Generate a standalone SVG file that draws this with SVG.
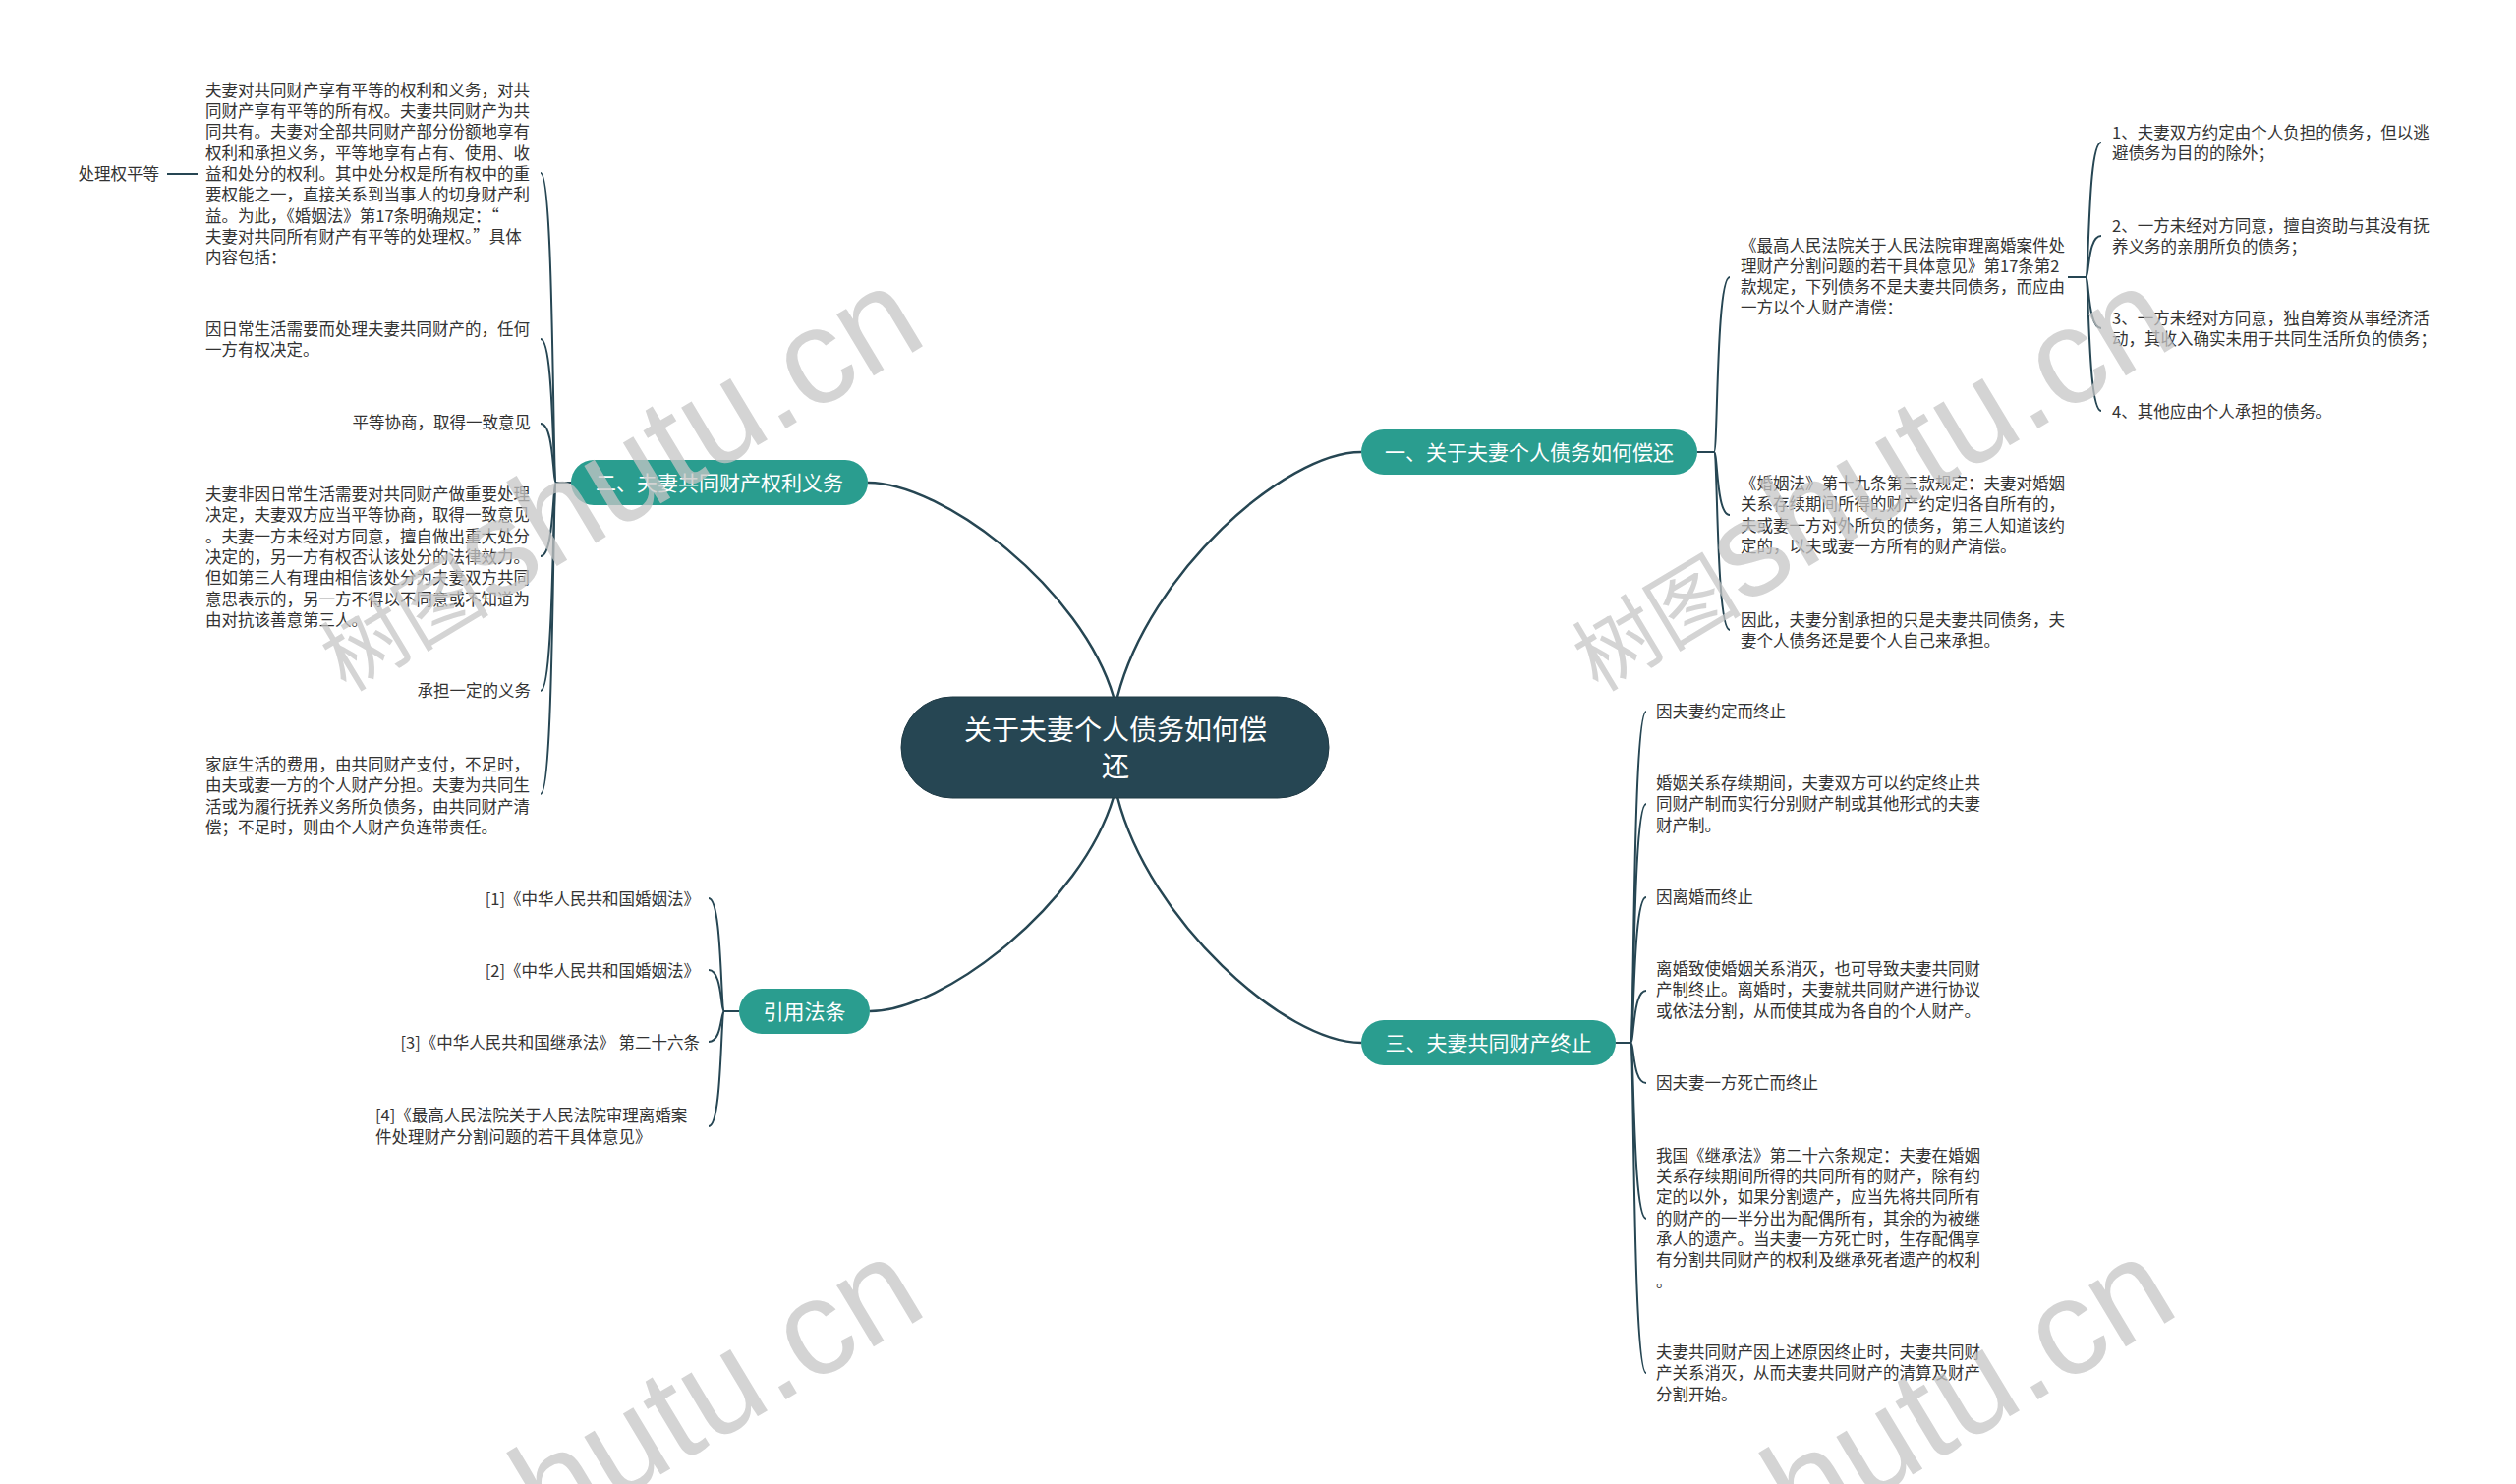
<svg xmlns="http://www.w3.org/2000/svg" width="2560" height="1510" viewBox="0 0 2560 1510">
<style>
.leaf{font-family:"Noto Sans CJK SC","Microsoft YaHei",sans-serif;font-size:16.5px;fill:#333333}
.end{text-anchor:end}
.br{font-family:"Noto Sans CJK SC","Microsoft YaHei",sans-serif;font-size:21px;fill:#ffffff;text-anchor:middle}
.ct{font-family:"Noto Sans CJK SC","Microsoft YaHei",sans-serif;font-size:28px;fill:#ffffff;text-anchor:middle}
.brn{fill:#2a9d8f}
.main{fill:none;stroke:#264653;stroke-width:2.5}
.sub{fill:none;stroke:#264653;stroke-width:2}
.wm{font-family:"Liberation Sans","Noto Sans CJK SC",sans-serif;fill:#c6c6c6;opacity:0.75}
</style>
<rect width="2560" height="1510" fill="#ffffff"/>

<g id="connectors">
<path class="main" d="M1133 709 C1101 600 960 491 883 491"/>
<path class="main" d="M1137 709 C1169 584 1307 460 1385 460"/>
<path class="main" d="M1133 811 C1101 920 960 1029 885 1029"/>
<path class="main" d="M1137 811 C1169 936 1307 1061 1385 1061"/>
<path class="sub" d="M581 491 H566 C562 491 564 176 550 176"/>
<path class="sub" d="M581 491 H566 C562 491 564 345 550 345"/>
<path class="sub" d="M581 491 H566 C562 491 564 431 550 431"/>
<path class="sub" d="M581 491 H566 C562 491 564 566 550 566"/>
<path class="sub" d="M581 491 H566 C562 491 564 703 550 703"/>
<path class="sub" d="M581 491 H566 C562 491 564 808 550 808"/>
<path class="sub" d="M201 177 H170"/>
<path class="sub" d="M1727 460 H1744 C1748 460 1746 282 1760 282"/>
<path class="sub" d="M1727 460 H1744 C1748 460 1746 524 1760 524"/>
<path class="sub" d="M1727 460 H1744 C1748 460 1746 641 1760 641"/>
<path class="sub" d="M2104 282 H2122 C2126 282 2124 145 2138 145"/>
<path class="sub" d="M2104 282 H2122 C2126 282 2124 240 2138 240"/>
<path class="sub" d="M2104 282 H2122 C2126 282 2124 334 2138 334"/>
<path class="sub" d="M2104 282 H2122 C2126 282 2124 418 2138 418"/>
<path class="sub" d="M1644 1061 H1659 C1663 1061 1661 724 1675 724"/>
<path class="sub" d="M1644 1061 H1659 C1663 1061 1661 818 1675 818"/>
<path class="sub" d="M1644 1061 H1659 C1663 1061 1661 913 1675 913"/>
<path class="sub" d="M1644 1061 H1659 C1663 1061 1661 1008 1675 1008"/>
<path class="sub" d="M1644 1061 H1659 C1663 1061 1661 1102 1675 1102"/>
<path class="sub" d="M1644 1061 H1659 C1663 1061 1661 1240 1675 1240"/>
<path class="sub" d="M1644 1061 H1659 C1663 1061 1661 1397 1675 1397"/>
<path class="sub" d="M752 1029 H737 C733 1029 735 914 721 914"/>
<path class="sub" d="M752 1029 H737 C733 1029 735 987 721 987"/>
<path class="sub" d="M752 1029 H737 C733 1029 735 1060 721 1060"/>
<path class="sub" d="M752 1029 H737 C733 1029 735 1146 721 1146"/>
</g>

<g id="central">
<rect x="917" y="709" width="435" height="103" rx="51.5" fill="#264653" stroke="#1f3a45" stroke-width="1"/>
<text class="ct" x="1135" y="753">关于夫妻个人债务如何偿</text>
<text class="ct" x="1135" y="790">还</text>
</g>

<g id="b1">
<rect class="brn" x="1385" y="437" width="342" height="46" rx="23"/>
<text class="br" x="1556" y="467.5">一、关于夫妻个人债务如何偿还</text>
</g>
<g id="b2">
<rect class="brn" x="581" y="468" width="302" height="46" rx="23"/>
<text class="br" x="732" y="498.5">二、夫妻共同财产权利义务</text>
</g>
<g id="b3">
<rect class="brn" x="1385" y="1038" width="259" height="46" rx="23"/>
<text class="br" x="1514.5" y="1068.5">三、夫妻共同财产终止</text>
</g>
<g id="b4">
<rect class="brn" x="752" y="1006" width="133" height="46" rx="23"/>
<text class="br" x="818.5" y="1036.5">引用法条</text>
</g>

<g id="b2-l1">
<text class="leaf" x="209" y="98">夫妻对共同财产享有平等的权利和义务，对共</text>
<text class="leaf" x="209" y="119">同财产享有平等的所有权。夫妻共同财产为共</text>
<text class="leaf" x="209" y="140">同共有。夫妻对全部共同财产部分份额地享有</text>
<text class="leaf" x="209" y="162">权利和承担义务，平等地享有占有、使用、收</text>
<text class="leaf" x="209" y="183">益和处分的权利。其中处分权是所有权中的重</text>
<text class="leaf" x="209" y="204">要权能之一，直接关系到当事人的切身财产利</text>
<text class="leaf" x="209" y="226">益。为此，《婚姻法》第17条明确规定：“</text>
<text class="leaf" x="209" y="247">夫妻对共同所有财产有平等的处理权。”具体</text>
<text class="leaf" x="209" y="268">内容包括：</text>
</g>
<g id="b2-l1a">
<text class="leaf end" x="162" y="183">处理权平等</text>
</g>
<g id="b2-l2">
<text class="leaf" x="209" y="341">因日常生活需要而处理夫妻共同财产的，任何</text>
<text class="leaf" x="209" y="362">一方有权决定。</text>
</g>
<g id="b2-l3">
<text class="leaf end" x="540" y="436">平等协商，取得一致意见</text>
</g>
<g id="b2-l4">
<text class="leaf" x="209" y="509">夫妻非因日常生活需要对共同财产做重要处理</text>
<text class="leaf" x="209" y="530">决定，夫妻双方应当平等协商，取得一致意见</text>
<text class="leaf" x="209" y="552">。夫妻一方未经对方同意，擅自做出重大处分</text>
<text class="leaf" x="209" y="573">决定的，另一方有权否认该处分的法律效力。</text>
<text class="leaf" x="209" y="594">但如第三人有理由相信该处分为夫妻双方共同</text>
<text class="leaf" x="209" y="616">意思表示的，另一方不得以不同意或不知道为</text>
<text class="leaf" x="209" y="637">由对抗该善意第三人。</text>
</g>
<g id="b2-l5">
<text class="leaf end" x="540" y="709">承担一定的义务</text>
</g>
<g id="b2-l6">
<text class="leaf" x="209" y="784">家庭生活的费用，由共同财产支付，不足时，</text>
<text class="leaf" x="209" y="805">由夫或妻一方的个人财产分担。夫妻为共同生</text>
<text class="leaf" x="209" y="827">活或为履行抚养义务所负债务，由共同财产清</text>
<text class="leaf" x="209" y="848">偿；不足时，则由个人财产负连带责任。</text>
</g>

<g id="b1-l1">
<text class="leaf" x="1771" y="256">《最高人民法院关于人民法院审理离婚案件处</text>
<text class="leaf" x="1771" y="277">理财产分割问题的若干具体意见》第17条第2</text>
<text class="leaf" x="1771" y="298">款规定，下列债务不是夫妻共同债务，而应由</text>
<text class="leaf" x="1771" y="319">一方以个人财产清偿：</text>
</g>
<g id="b1-l1-1">
<text class="leaf" x="2149" y="141">1、夫妻双方约定由个人负担的债务，但以逃</text>
<text class="leaf" x="2149" y="162">避债务为目的的除外；</text>
</g>
<g id="b1-l1-2">
<text class="leaf" x="2149" y="236">2、一方未经对方同意，擅自资助与其没有抚</text>
<text class="leaf" x="2149" y="257">养义务的亲朋所负的债务；</text>
</g>
<g id="b1-l1-3">
<text class="leaf" x="2149" y="330">3、一方未经对方同意，独自筹资从事经济活</text>
<text class="leaf" x="2149" y="351">动，其收入确实未用于共同生活所负的债务；</text>
</g>
<g id="b1-l1-4">
<text class="leaf" x="2149" y="425">4、其他应由个人承担的债务。</text>
</g>
<g id="b1-l2">
<text class="leaf" x="1771" y="498">《婚姻法》第十九条第三款规定：夫妻对婚姻</text>
<text class="leaf" x="1771" y="519">关系存续期间所得的财产约定归各自所有的，</text>
<text class="leaf" x="1771" y="541">夫或妻一方对外所负的债务，第三人知道该约</text>
<text class="leaf" x="1771" y="562">定的，以夫或妻一方所有的财产清偿。</text>
</g>
<g id="b1-l3">
<text class="leaf" x="1771" y="637">因此，夫妻分割承担的只是夫妻共同债务，夫</text>
<text class="leaf" x="1771" y="658">妻个人债务还是要个人自己来承担。</text>
</g>

<g id="b3-l1"><text class="leaf" x="1685" y="730">因夫妻约定而终止</text></g>
<g id="b3-l2">
<text class="leaf" x="1685" y="803">婚姻关系存续期间，夫妻双方可以约定终止共</text>
<text class="leaf" x="1685" y="824">同财产制而实行分别财产制或其他形式的夫妻</text>
<text class="leaf" x="1685" y="846">财产制。</text>
</g>
<g id="b3-l3"><text class="leaf" x="1685" y="919">因离婚而终止</text></g>
<g id="b3-l4">
<text class="leaf" x="1685" y="992">离婚致使婚姻关系消灭，也可导致夫妻共同财</text>
<text class="leaf" x="1685" y="1013">产制终止。离婚时，夫妻就共同财产进行协议</text>
<text class="leaf" x="1685" y="1035">或依法分割，从而使其成为各自的个人财产。</text>
</g>
<g id="b3-l5"><text class="leaf" x="1685" y="1108">因夫妻一方死亡而终止</text></g>
<g id="b3-l6">
<text class="leaf" x="1685" y="1182">我国《继承法》第二十六条规定：夫妻在婚姻</text>
<text class="leaf" x="1685" y="1203">关系存续期间所得的共同所有的财产，除有约</text>
<text class="leaf" x="1685" y="1224">定的以外，如果分割遗产，应当先将共同所有</text>
<text class="leaf" x="1685" y="1246">的财产的一半分出为配偶所有，其余的为被继</text>
<text class="leaf" x="1685" y="1267">承人的遗产。当夫妻一方死亡时，生存配偶享</text>
<text class="leaf" x="1685" y="1288">有分割共同财产的权利及继承死者遗产的权利</text>
<text class="leaf" x="1685" y="1310">。</text>
</g>
<g id="b3-l7">
<text class="leaf" x="1685" y="1382">夫妻共同财产因上述原因终止时，夫妻共同财</text>
<text class="leaf" x="1685" y="1403">产关系消灭，从而夫妻共同财产的清算及财产</text>
<text class="leaf" x="1685" y="1425">分割开始。</text>
</g>

<g id="b4-l1"><text class="leaf end" x="712" y="921">[1]《中华人民共和国婚姻法》</text></g>
<g id="b4-l2"><text class="leaf end" x="712" y="994">[2]《中华人民共和国婚姻法》</text></g>
<g id="b4-l3"><text class="leaf end" x="712" y="1067">[3]《中华人民共和国继承法》 第二十六条</text></g>
<g id="b4-l4">
<text class="leaf" x="382" y="1141">[4]《最高人民法院关于人民法院审理离婚案</text>
<text class="leaf" x="382" y="1163">件处理财产分割问题的若干具体意见》</text>
</g>

<g id="watermarks">
<text class="wm" transform="translate(352 705) rotate(-31)"><tspan font-size="86">树图</tspan><tspan font-size="138">shutu.cn</tspan></text>
<text class="wm" transform="translate(1626 705) rotate(-31)"><tspan font-size="86">树图</tspan><tspan font-size="138">shutu.cn</tspan></text>
<text class="wm" transform="translate(352 1693) rotate(-31)"><tspan font-size="86">树图</tspan><tspan font-size="138">shutu.cn</tspan></text>
<text class="wm" transform="translate(1626 1693) rotate(-31)"><tspan font-size="86">树图</tspan><tspan font-size="138">shutu.cn</tspan></text>
</g>
</svg>
